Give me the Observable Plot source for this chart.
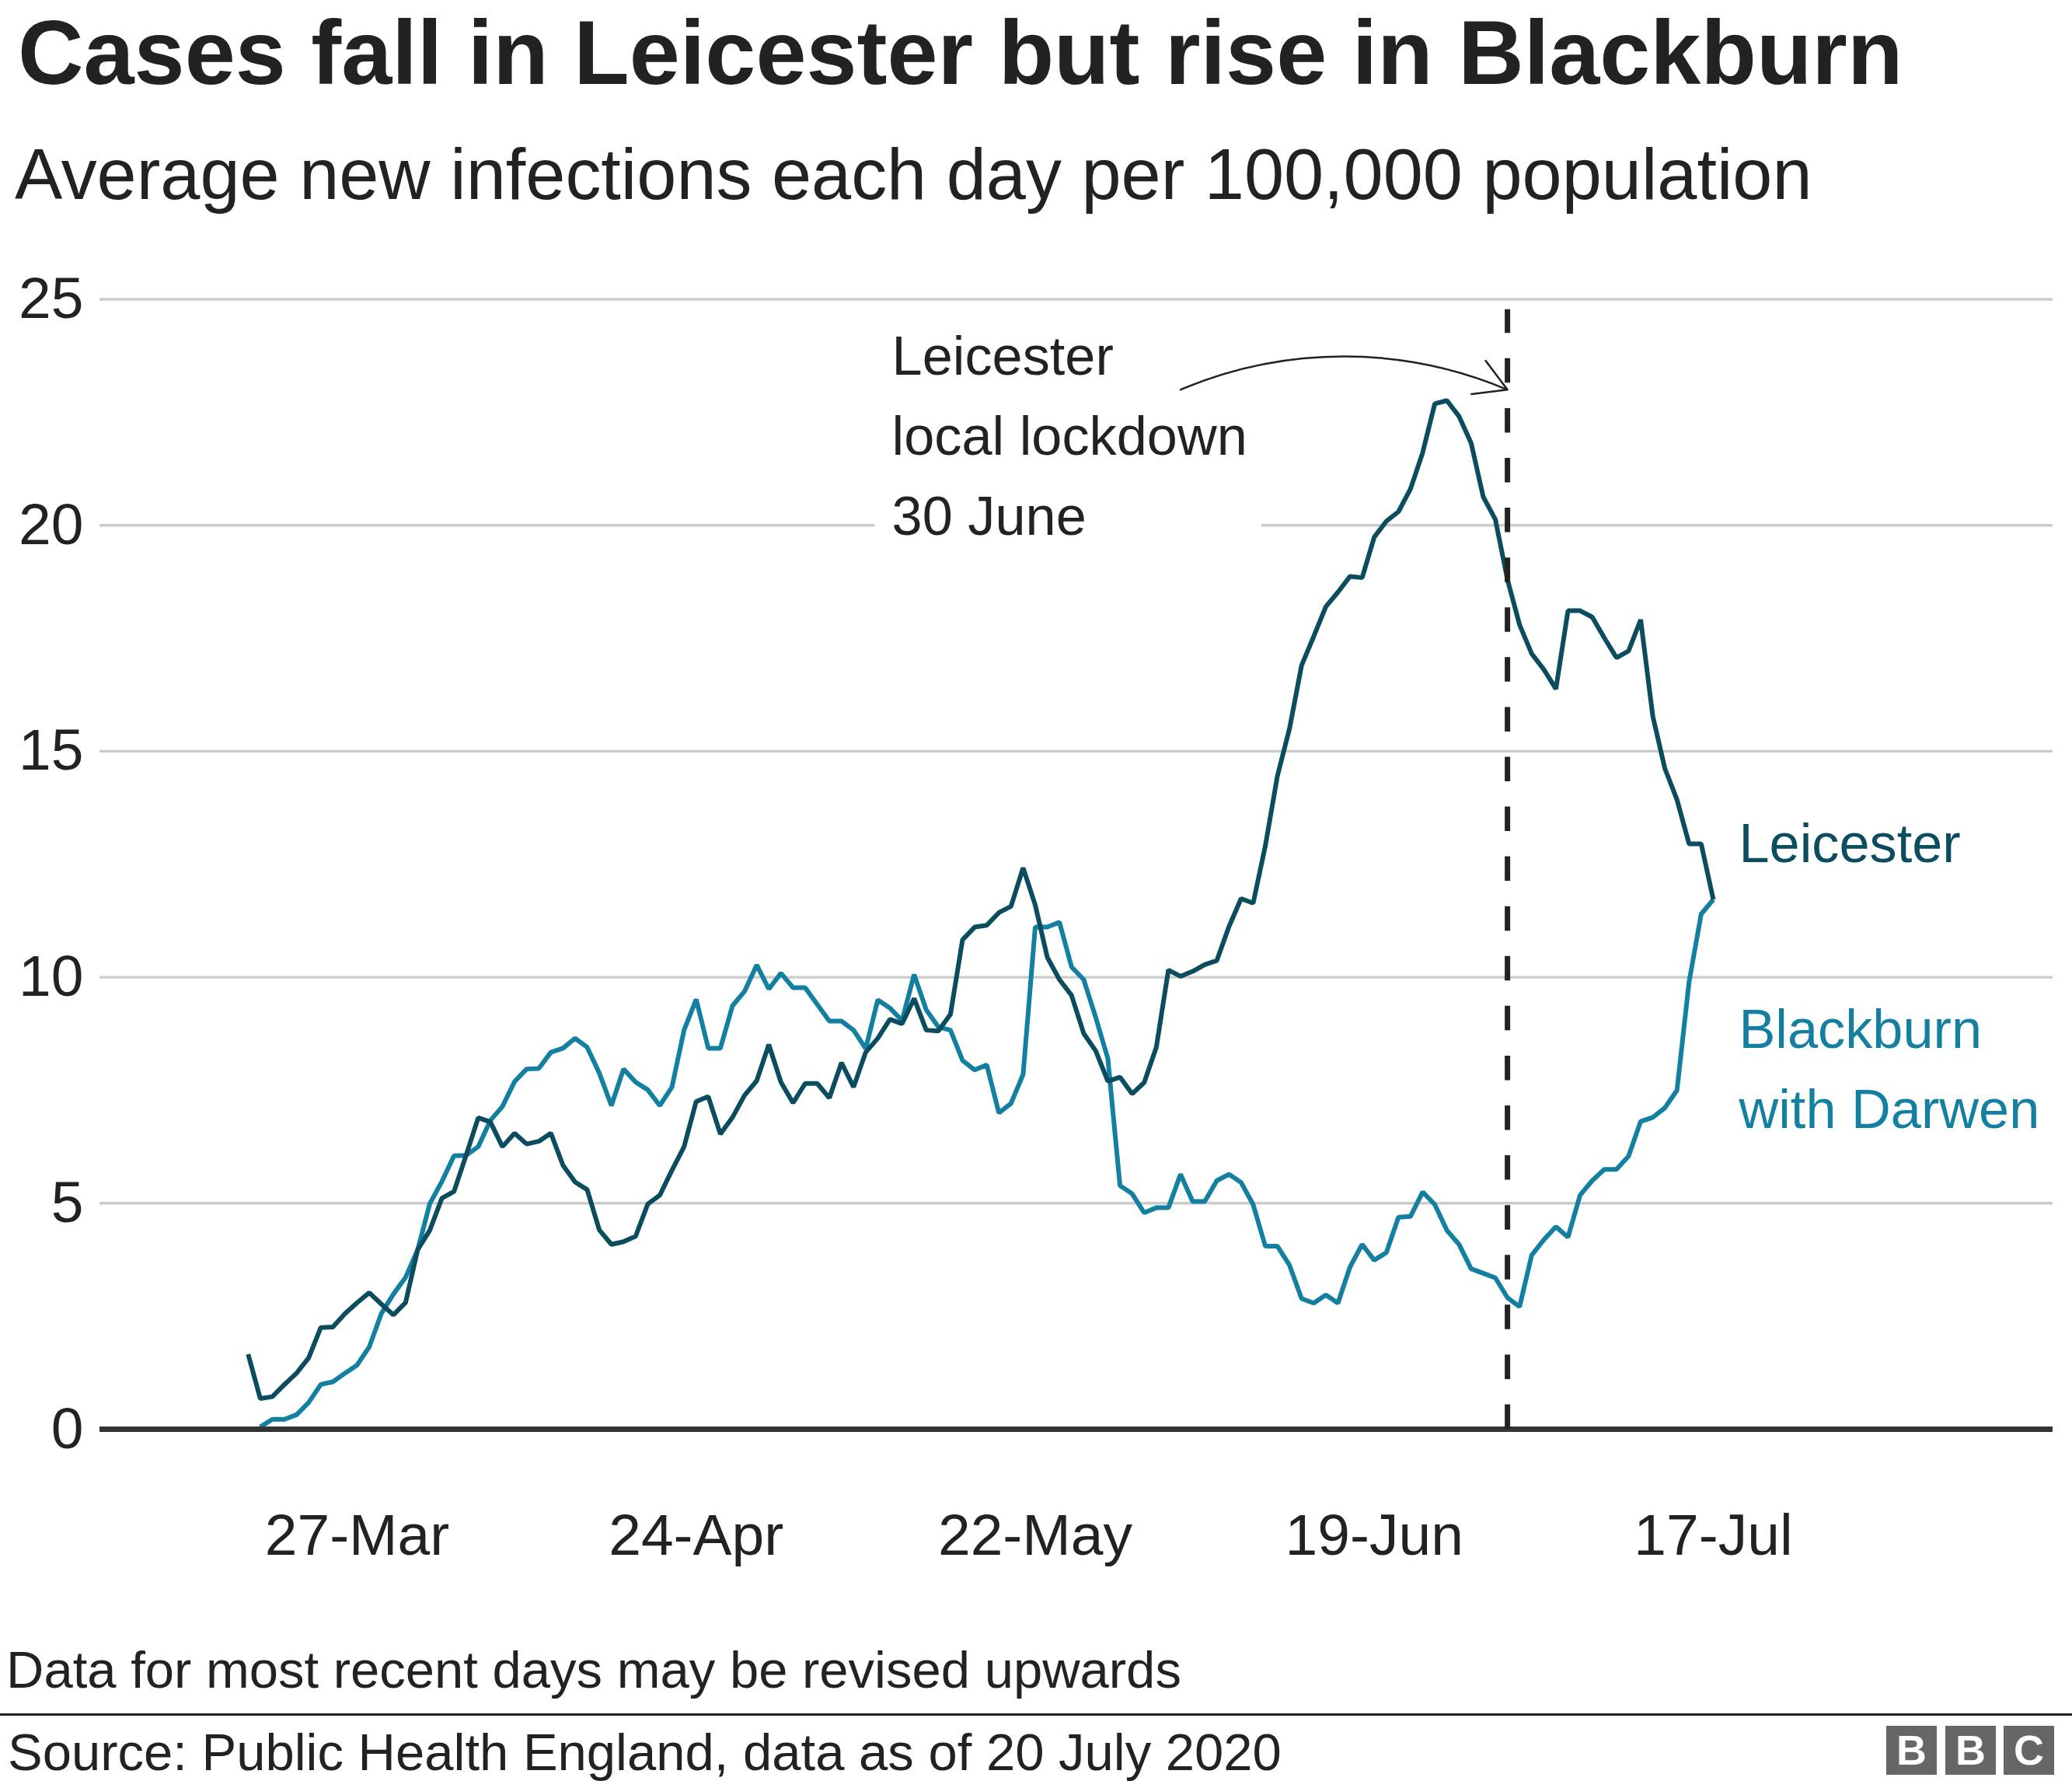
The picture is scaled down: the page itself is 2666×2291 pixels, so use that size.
<!DOCTYPE html>
<html>
<head>
<meta charset="utf-8">
<script src="https://cdn.jsdelivr.net/npm/d3@7"></script>
<script src="https://cdn.jsdelivr.net/npm/@observablehq/plot@0.6"></script>
<style>
  html, body { margin: 0; padding: 0; background: #fff; }
  body { width: 2666px; height: 2291px; position: relative; overflow: hidden;
         font-family: "Liberation Sans", Arial, Helvetica, sans-serif; color: #222; }
  .t { position: absolute; white-space: nowrap; line-height: 1; }
  #title { left: 23px; top: 9px; font-size: 117px; font-weight: bold; }
  #subtitle { left: 19px; top: 179px; font-size: 91.9px; }
  #chart { position: absolute; left: 0; top: 300px; }
  #note { left: 8px; top: 2114px; font-size: 67px; }
  #divider { position: absolute; left: 0; top: 2204px; width: 2666px; height: 3px; background: #222; }
  #source { left: 10px; top: 2220px; font-size: 67px; }
  .bbc { position: absolute; top: 2220px; width: 65px; height: 63px; background: #666;
         color: #fff; font-weight: bold; font-size: 54px; line-height: 63px; text-align: center; }
</style>
</head>
<body>
<div id="title" class="t">Cases fall in Leicester but rise in Blackburn</div>
<div id="subtitle" class="t">Average new infections each day per 100,000 population</div>
<div id="chart"></div>
<div id="note" class="t">Data for most recent days may be revised upwards</div>
<div id="divider"></div>
<div id="source" class="t">Source: Public Health England, data as of 20 July 2020</div>
<div class="bbc" style="left:2427px">B</div>
<div class="bbc" style="left:2503px">B</div>
<div class="bbc" style="left:2578px">C</div>
<script>
// ---- Data (daily values) ----
const leicesterStart = "2020-03-18";
const leicesterValues = [
  1.66, 0.68, 0.72, 0.99, 1.24, 1.58, 2.25, 2.26, 2.56, 2.80, 3.02, 2.77, 2.53, 2.80, // Mar 18-31
  3.97, 4.40, 5.11, 5.26, 6.06, 6.89, 6.80, 6.25, 6.55, 6.31, 6.37, 6.55, 5.84, 5.47, 5.30, // Apr 1-15
  4.41, 4.09, 4.15, 4.27, 4.98, 5.18, 5.73, 6.25, 7.25, 7.36, 6.53, 6.90, 7.39, 7.71, 8.51, // Apr 16-30
  7.68, 7.22, 7.65, 7.65, 7.33, 8.11, 7.57, 8.34, 8.65, 9.07, 8.97, 9.53, 8.83, 8.81, 9.18, // May 1-15
  10.83, 11.11, 11.15, 11.43, 11.57, 12.42, 11.60, 10.44, 9.95, 9.60, 8.76, 8.37, 7.70, 7.79, 7.42, 7.67, // May 16-31
  8.45, 10.16, 10.02, 10.13, 10.28, 10.37, 11.12, 11.74, 11.64, 12.90, 14.45, 15.50, 16.90, 17.54, 18.20, // Jun 1-15
  18.52, 18.87, 18.84, 19.74, 20.09, 20.30, 20.81, 21.61, 22.69, 22.76, 22.41, 21.82, 20.63, 20.13, 18.80, // Jun 16-30
  17.80, 17.16, 16.81, 16.38, 18.11, 18.11, 17.97, 17.51, 17.07, 17.22, 17.91, 15.78, 14.62, 13.93, 12.95, 12.95, 11.72 // Jul 1-17
];
const blackburnStart = "2020-03-19";
const blackburnValues = [
  0.05, 0.22, 0.22, 0.32, 0.59, 0.99, 1.05, 1.24, 1.42, 1.82, 2.56, 2.99, 3.36, // Mar 19-31
  3.97, 4.99, 5.48, 6.05, 6.06, 6.25, 6.83, 7.14, 7.69, 7.97, 7.98, 8.34, 8.43, 8.65, 8.45, // Apr 1-15
  7.88, 7.16, 7.97, 7.68, 7.51, 7.16, 7.57, 8.83, 9.51, 8.43, 8.43, 9.37, 9.69, 10.27, 9.74, // Apr 16-30
  10.09, 9.77, 9.77, 9.40, 9.03, 9.03, 8.83, 8.42, 9.50, 9.32, 9.04, 10.06, 9.28, 8.90, 8.83, // May 1-15
  8.16, 7.95, 8.06, 7.00, 7.21, 7.85, 11.11, 11.11, 11.22, 10.23, 9.95, 9.11, 8.20, 5.39, 5.21, 4.79, // May 16-31
  4.90, 4.90, 5.64, 5.04, 5.04, 5.50, 5.64, 5.46, 4.97, 4.05, 4.05, 3.63, 2.89, 2.79, 2.97, // Jun 1-15
  2.79, 3.59, 4.09, 3.74, 3.91, 4.69, 4.71, 5.25, 4.97, 4.40, 4.09, 3.55, 3.45, 3.35, 2.91, // Jun 16-30
  2.71, 3.85, 4.19, 4.48, 4.25, 5.18, 5.50, 5.75, 5.75, 6.04, 6.81, 6.90, 7.11, 7.50, 9.90, 11.40, 11.72 // Jul 1-17
];
const seriesNames = ["Leicester", "Blackburn\nwith Darwen"];
const seriesColors = ["#0b4c5f", "#1380A1"];
const xTickDates = ["2020-03-27", "2020-04-24", "2020-05-22", "2020-06-19", "2020-07-17"];
const yTickValues = [0, 5, 10, 15, 20, 25];
const lockdownDate = "2020-06-30";
const lockdownNote = "Leicester\nlocal lockdown\n30 June";
const arrowStart = {date: "2020-06-03", value: 23};
const arrowEnd = {date: lockdownDate, value: 23};

// ---- Build tables ----
const toSeries = (start, values) =>
  values.map((v, i) => ({date: d3.utcDay.offset(new Date(start), i), value: v}));
const leicester = toSeries(leicesterStart, leicesterValues);
const blackburn = toSeries(blackburnStart, blackburnValues);
const lastL = leicester[leicester.length - 1];
const lastB = blackburn[blackburn.length - 1];

const DAY = 864e5;
const ref = Date.UTC(2020, 2, 27);
const xDomain = [new Date(ref - 21.245 * DAY), new Date(ref + 140.05 * DAY)];

const font = '"Liberation Sans", Arial, Helvetica, sans-serif';
const GRID = "#cbcbcb";

const plot = Plot.plot({
  width: 2666,
  height: 1800,
  marginLeft: 128,
  marginRight: 25,
  marginTop: 84.5,
  marginBottom: 262,
  style: {fontFamily: font, fontSize: "75px", color: "#222", background: "transparent", overflow: "visible"},
  x: {type: "utc", domain: xDomain},
  y: {domain: [0, 25]},
  marks: [
    Plot.ruleY(yTickValues.filter(d => d > 0), {stroke: GRID, strokeWidth: 3.4}),
    Plot.axisY(yTickValues, {tickSize: 0, tickPadding: 21, tickFormat: d => String(d), fontSize: 75, fill: "#222", label: null}),
    Plot.axisX(xTickDates.map(d => new Date(d)), {tickSize: 0, tickPadding: 108, tickFormat: d3.utcFormat("%d-%b"), fontSize: 75, fill: "#222", label: null}),
    Plot.text([{date: new Date(lockdownDate), value: 25}], {
      x: "date", y: "value", text: () => lockdownNote,
      textAnchor: "start", lineAnchor: "bottom", lineHeight: 1.464,
      dx: -792, dy: 302.8, fontSize: 70.3, fill: "#222"
    }),
    Plot.arrow([{x1: new Date(arrowStart.date), y1: arrowStart.value, x2: new Date(arrowEnd.date), y2: arrowEnd.value}], {
      x1: "x1", y1: "y1", x2: "x2", y2: "y2", bend: 23, headLength: 28, stroke: "#222", strokeWidth: 2.5
    }),
    Plot.line(blackburn, {x: "date", y: "value", stroke: seriesColors[1], strokeWidth: 6, strokeLinejoin: "miter", strokeLinecap: "butt"}),
    Plot.line(leicester, {x: "date", y: "value", stroke: seriesColors[0], strokeWidth: 6, strokeLinejoin: "miter", strokeLinecap: "butt"}),
    Plot.ruleY([0], {stroke: "#333", strokeWidth: 7}),
    Plot.ruleX([new Date(lockdownDate)], {y1: 0, y2: 24.77, stroke: "#222", strokeWidth: 7, strokeDasharray: "31.5,32.58"}),
    Plot.text([lastL], {x: "date", y: "value", text: () => seriesNames[0], textAnchor: "start", lineAnchor: "bottom",
      dx: 33, dy: -47.8, fontSize: 70.3, fill: seriesColors[0]}),
    Plot.text([lastB], {x: "date", y: "value", text: () => seriesNames[1], textAnchor: "start", lineAnchor: "bottom",
      lineHeight: 1.463, dx: 33, dy: 293.9, fontSize: 70.3, fill: seriesColors[1]})
  ]
});

document.getElementById("chart").appendChild(plot);

// White box behind the annotation text so the gridline breaks around it
const svgRect = plot.getBoundingClientRect();
const noteText = Array.from(plot.querySelectorAll("text")).find(t => t.textContent.includes("local lockdown"));
const gridG = Array.from(plot.querySelectorAll("g")).find(g => (g.getAttribute("stroke") || "").toLowerCase() === GRID);
if (noteText && gridG) {
  const r = noteText.getBoundingClientRect();
  const rect = document.createElementNS("http://www.w3.org/2000/svg", "rect");
  rect.setAttribute("x", r.left - svgRect.left - 22);
  rect.setAttribute("y", r.top - svgRect.top);
  rect.setAttribute("width", r.width + 40);
  rect.setAttribute("height", r.height);
  rect.setAttribute("fill", "#fff");
  gridG.after(rect);
}
</script>
</body>
</html>
